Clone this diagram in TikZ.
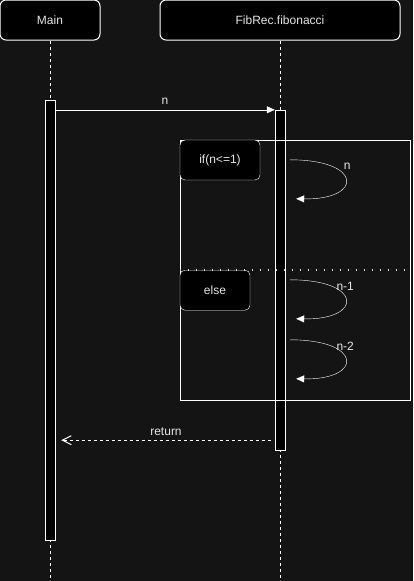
\documentclass[tikz,border=0pt]{standalone}
\usepackage{fontspec}
\setmainfont{Liberation Sans}
\definecolor{bgdark}{RGB}{20,20,20}
\definecolor{txt}{RGB}{230,230,230}
\usetikzlibrary{arrows.meta,calc,positioning}
\pgfdeclarelayer{bg}
\pgfsetlayers{bg,main}

\begin{document}
\begin{tikzpicture}[x=1pt,y=-1pt,line width=1pt,
    actor/.style={draw=white, fill=black, rounded corners=6pt, text=txt, inner sep=0pt, minimum height=40pt, font=\fontsize{12}{14}\selectfont},
    guard/.style={actor, rounded corners=5pt},
    bar/.style={draw=white, fill=black, minimum width=10pt, inner sep=0pt},
    frame/.style={draw=white, inner sep=0pt},
    life/.style={draw=white, dash pattern=on 3pt off 3pt},
    msg/.style={draw=white, -{Triangle[length=8pt,width=7pt]}},
    reply/.style={draw=white, dash pattern=on 3pt off 3pt, -{Straight Barb[length=9pt,width=9pt,line width=1pt]}},
    selfcall/.style={draw=white, -{Triangle[length=8pt,width=7pt]}},
    lbl/.style={text=txt, inner sep=0pt, font=\fontsize{12}{14}\selectfont},
    ]
      \useasboundingbox (0,0) rectangle (413,581);
      \node[actor, minimum width=100pt] (main) at (50,20) {Main};
      \node[actor, minimum width=240pt] (fib) at (280,20) {FibRec.fibonacci};
      \coordinate (bottom) at (0,581);

      \begin{pgfonlayer}{bg}
      \fill[bgdark] (0,0) rectangle (413,581);
      \draw[life] (main.south) -- (main.south |- bottom);
      \draw[life] (fib.south) -- (fib.south |- bottom);
      \end{pgfonlayer}

      \node[bar, minimum height=440pt] (mainbar) at (50,320) {};
      \node[bar, minimum height=340pt] (fibbar) at (280,280) {};

      % call
      \draw[msg] ($(mainbar.north east)+(0,10)$) -- (fibbar.north west)
        node[lbl, midway, above=5pt] (ncall) {n};

      % alt frame
      \node[frame, minimum width=230pt, minimum height=260pt] (alt) at (295,270) {};
      \coordinate (split) at (alt.west |- 0,270);
      \node[guard, minimum width=80pt, anchor=north west] (ifbox) at (alt.north west) {if(n<=1)};
      \node[guard, minimum width=70pt, anchor=north west] (elsebox) at (split) {else};
      \draw[white!85!black, line width=1.6pt, dash pattern=on 1.6pt off 6.4pt] (split) -- (alt.east |- split);

      % recursive calls
      \coordinate (c1) at ($(fibbar.north east)+(5,50)$);
      \coordinate (c2) at ($(fibbar.north east)+(5,170)$);
      \coordinate (c3) at ($(fibbar.north east)+(5,230)$);
      \draw[selfcall] (c1) .. controls ($(c1)+(73,0)$) and ($(c1)+(73,40)$) .. ($(c1)+(6,39)$);
      \draw[selfcall] (c2) .. controls ($(c2)+(73,0)$) and ($(c2)+(73,40)$) .. ($(c2)+(6,39)$);
      \draw[selfcall] (c3) .. controls ($(c3)+(73,0)$) and ($(c3)+(73,40)$) .. ($(c3)+(6,39)$);
      \node[lbl] (l1) at ($(c1)+(57,6)$) {n};
      \node[lbl] (l2) at ($(c2)+(55,7)$) {n-1};
      \node[lbl] (l3) at ($(c3)+(55,7)$) {n-2};

      % return
      \coordinate (retfrom) at ($(fibbar.south west)+(-4,-10)$);
      \coordinate (retto) at ($(mainbar.east |- retfrom)+(6,0)$);
      \draw[reply] (retfrom) -- (retto) node[lbl, midway, above=4pt] (ret) {return};
\end{tikzpicture}
\end{document}
